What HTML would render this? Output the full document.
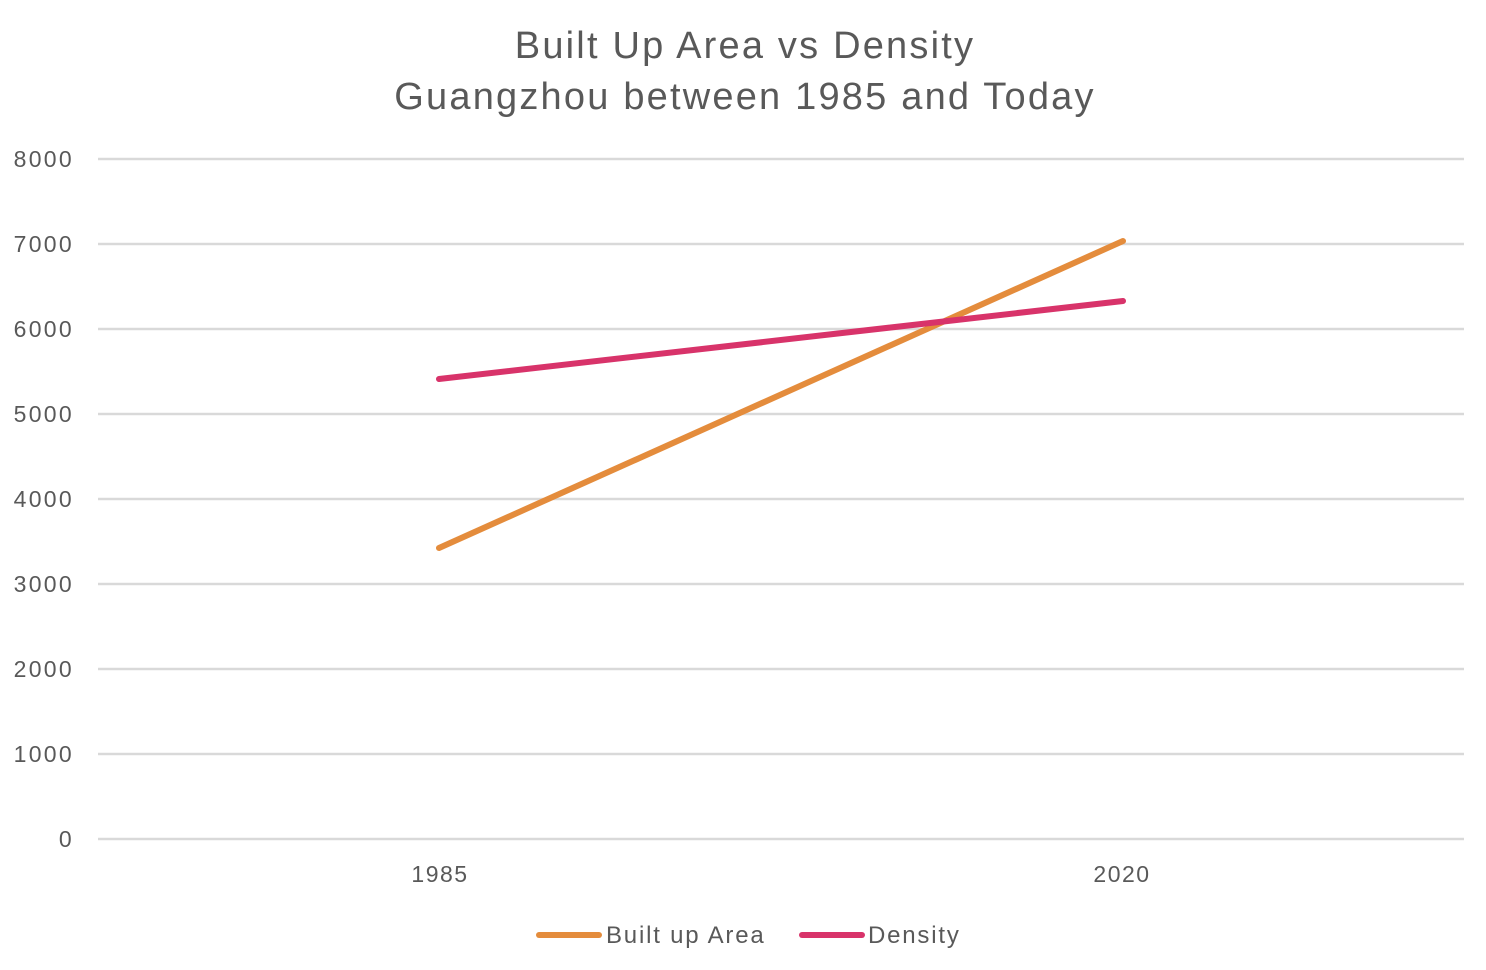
<!DOCTYPE html>
<html><head><meta charset="utf-8"><style>
html,body{margin:0;padding:0;background:#fff}
svg{display:block}
text{font-family:"Liberation Sans",sans-serif;fill:#595959}
</style></head><body>
<svg width="1486" height="970" viewBox="0 0 1486 970" xmlns="http://www.w3.org/2000/svg">
<rect width="1486" height="970" fill="#fff"/>
<text x="745" y="58" font-size="38" text-anchor="middle" letter-spacing="2.2">Built Up Area vs Density</text>
<text x="745" y="109" font-size="38" text-anchor="middle" letter-spacing="2.2">Guangzhou between 1985 and Today</text>
<g stroke="#d9d9d9" stroke-width="2.5">
<line x1="98" x2="1464" y1="159" y2="159"/>
<line x1="98" x2="1464" y1="244" y2="244"/>
<line x1="98" x2="1464" y1="329" y2="329"/>
<line x1="98" x2="1464" y1="414" y2="414"/>
<line x1="98" x2="1464" y1="499" y2="499"/>
<line x1="98" x2="1464" y1="584" y2="584"/>
<line x1="98" x2="1464" y1="669" y2="669"/>
<line x1="98" x2="1464" y1="754" y2="754"/>
<line x1="98" x2="1464" y1="839" y2="839"/>
</g>
<g font-size="23" text-anchor="end" letter-spacing="2.3">
<text x="74" y="167">8000</text>
<text x="74" y="252">7000</text>
<text x="74" y="337">6000</text>
<text x="74" y="422">5000</text>
<text x="74" y="507">4000</text>
<text x="74" y="592">3000</text>
<text x="74" y="677">2000</text>
<text x="74" y="762">1000</text>
<text x="74" y="847">0</text>
</g>
<g font-size="23" text-anchor="middle" letter-spacing="1.5">
<text x="440" y="882">1985</text>
<text x="1122" y="882">2020</text>
</g>
<line x1="439" y1="548" x2="1123" y2="241" stroke="#E48C3C" stroke-width="6" stroke-linecap="round"/>
<line x1="439" y1="379" x2="1123" y2="301" stroke="#D8336A" stroke-width="6" stroke-linecap="round"/>
<line x1="539" y1="935" x2="599" y2="935" stroke="#E48C3C" stroke-width="6" stroke-linecap="round"/>
<text x="606" y="943" font-size="24" letter-spacing="1.8">Built up Area</text>
<line x1="802" y1="935" x2="862" y2="935" stroke="#D8336A" stroke-width="6" stroke-linecap="round"/>
<text x="868" y="943" font-size="24" letter-spacing="1.8">Density</text>
</svg>
</body></html>
